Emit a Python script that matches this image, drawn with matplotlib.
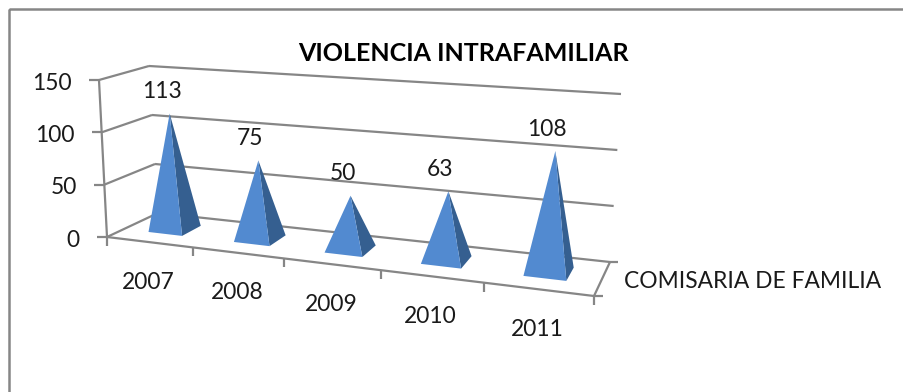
import numpy as np
import matplotlib
matplotlib.use('Agg')
import matplotlib.pyplot as plt
from matplotlib.patches import Polygon, Rectangle

plt.rcParams['font.family'] = ['Lato', 'DejaVu Sans']

# datos
years = ['2007', '2008', '2009', '2010', '2011']
values = [113, 75, 50, 63, 108]
y_ticks = [0, 50, 100, 150]
title = 'VIOLENCIA INTRAFAMILIAR'
series_name = 'COMISARIA DE FAMILIA'

# estilo
line_col = '#868686'
front_col = '#528AD0'
side_col = '#355F90'
text_col = '#1a1a1a'
label_size = 16.4
y_max = 150
half_w = 0.2   # media anchura de la base (en categorias)
mid_d = 0.53   # centro de la base en profundidad
half_d = 0.2   # media profundidad de la base
persp = 1.166  # convergencia del eje de categorias

# esquinas de la caja 3D en pixeles: (suelo, altura maxima)
front_left = np.array([[107, 237], [99, 80]], dtype=float)
back_left = np.array([[158, 213], [149, 66]], dtype=float)
front_right = np.array([[594, 296], [606, 124]], dtype=float)
back_right = np.array([[610, 262], [621, 94]], dtype=float)


def project(u, z, d):
    # u: categoria (0..n), z: valor, d: profundidad (0 delante, 1 detras)
    a = u / len(years)
    t = a / (a + persp * (1 - a))
    h = z / y_max
    fl = front_left[0] + h * (front_left[1] - front_left[0])
    bl = back_left[0] + h * (back_left[1] - back_left[0])
    fr = front_right[0] + h * (front_right[1] - front_right[0])
    br = back_right[0] + h * (back_right[1] - back_right[0])
    left = fl + d * (bl - fl)
    right = fr + d * (br - fr)
    return left + t * (right - left)


def draw_line(ax, p0, p1, zorder=2):
    ax.plot([p0[0], p1[0]], [p0[1], p1[1]], color=line_col, lw=1.6,
            solid_capstyle='butt', zorder=zorder)


fig = plt.figure(figsize=(9.04, 3.92), dpi=100)
ax = fig.add_axes([0, 0, 1, 1])
ax.set_xlim(0, 904)
ax.set_ylim(392, 0)
ax.axis('off')

# marco del grafico (se sale por la derecha y por abajo)
ax.add_patch(Rectangle((9, 9), 1000, 500, fill=False, ec=line_col, lw=1.8))

n = len(years)

# lineas de cuadricula en pared izquierda y fondo
for z in y_ticks:
    draw_line(ax, project(0, z, 0), project(0, z, 1))
    draw_line(ax, project(0, z, 1), project(n, z, 1))
    p = project(0, z, 0)
    draw_line(ax, p, p + [-10, 0])
    ax.text(p[0] - 27, p[1] + 3, str(z), ha='right', va='center',
            fontsize=label_size, color=text_col)

# ejes
draw_line(ax, project(0, 0, 0), project(0, y_max, 0), zorder=3)
draw_line(ax, project(0, 0, 0), project(n, 0, 0), zorder=3)
draw_line(ax, project(n, 0, 0), project(n, 0, 1), zorder=3)
for i in range(n + 1):
    p = project(i, 0, 0)
    draw_line(ax, p, p + [0, 9], zorder=3)
draw_line(ax, project(n, 0, 0), project(n, 0, 0) + [9, 0], zorder=3)
draw_line(ax, project(n, 0, 1), project(n, 0, 1) + [8, 0], zorder=3)

# piramides
for i, (year, val) in enumerate(zip(years, values)):
    c = i + 0.5
    apex = project(c, val, mid_d)
    fl = project(c - half_w, 0, mid_d - half_d)
    fr = project(c + half_w, 0, mid_d - half_d)
    br = project(c + half_w, 0, mid_d + half_d)
    ax.add_patch(Polygon([fr, br, apex], closed=True, fc=side_col, ec='none', zorder=4))
    ax.add_patch(Polygon([fl, fr, apex], closed=True, fc=front_col, ec='none', zorder=5))
    ax.annotate(str(val), apex, xytext=(-8, 22), textcoords='offset pixels',
                ha='center', va='center', fontsize=label_size, color=text_col, zorder=6)
    base = project(c, 0, 0)
    ax.annotate(year, base, xytext=(-1, -40), textcoords='offset pixels',
                ha='center', va='center', fontsize=label_size, color=text_col)

mid = (project(n, 0, 0) + project(n, 0, 1)) / 2
ax.annotate(series_name, mid, xytext=(22, -2), textcoords='offset pixels',
            ha='left', va='center', fontsize=label_size, color=text_col)

ax.text(463, 53, title, ha='center', va='center', fontsize=18, fontweight='bold', color='black')

fig.savefig('out.png', dpi=100)
